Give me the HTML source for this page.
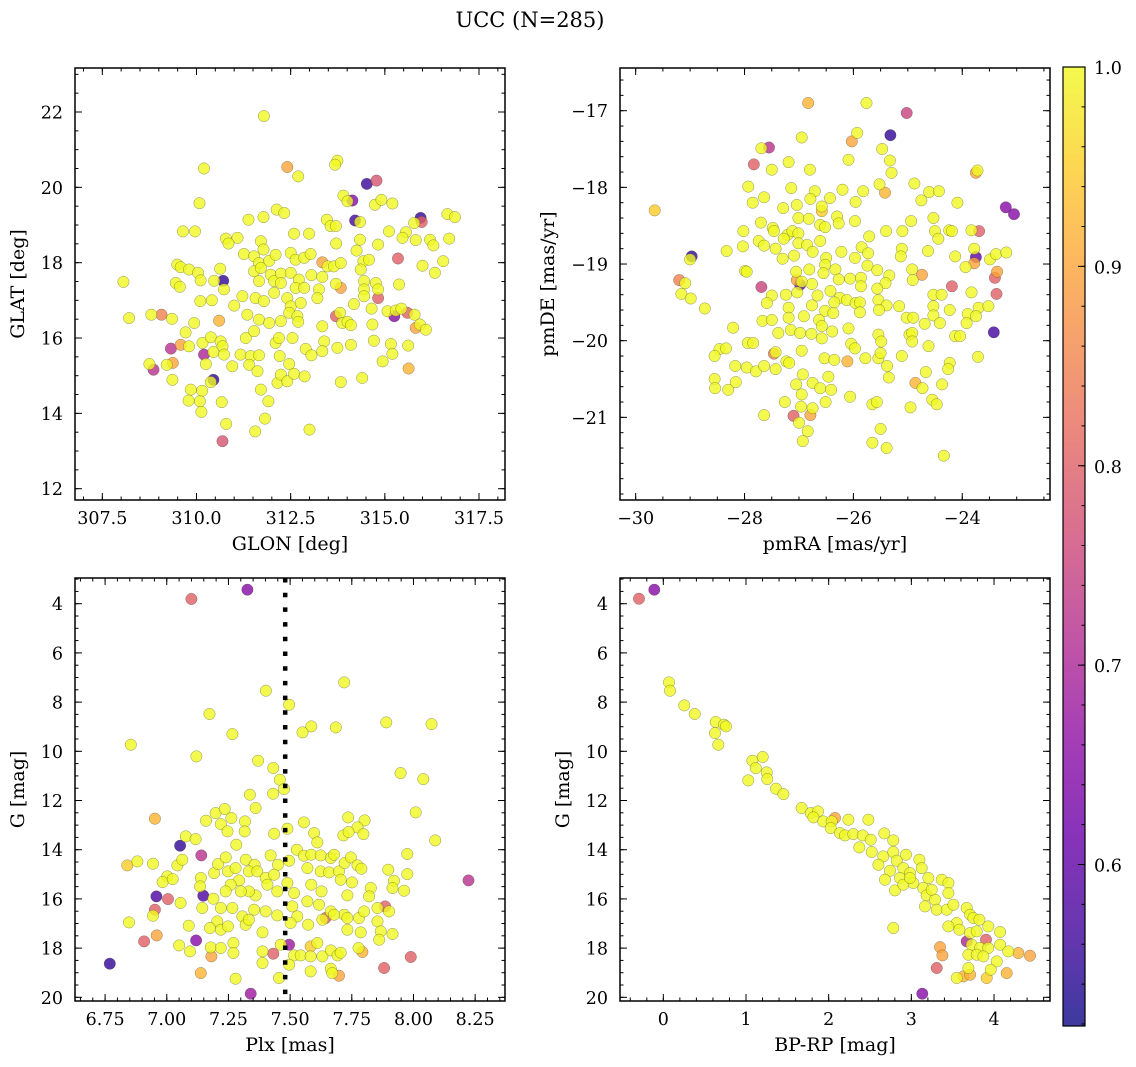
<!DOCTYPE html>
<html><head><meta charset="utf-8"><title>UCC (N=285)</title>
<style>
html,body{margin:0;padding:0;background:#fff;}
svg{display:block;font-family:"DejaVu Serif","Liberation Serif",serif;}
</style></head>
<body>
<svg id="fig" width="1136" height="1067" viewBox="0 0 1136 1067" xmlns="http://www.w3.org/2000/svg">
<defs>
<linearGradient id="cbgrad" x1="0" y1="1" x2="0" y2="0"></linearGradient>
<clipPath id="c1"><rect x="75" y="68" width="430" height="432"/></clipPath>
<clipPath id="c2"><rect x="620" y="68" width="430" height="432"/></clipPath>
<clipPath id="c3"><rect x="75" y="578" width="430" height="423"/></clipPath>
<clipPath id="c4"><rect x="620" y="578" width="430" height="423"/></clipPath>
</defs>
<rect x="0" y="0" width="1136" height="1067" fill="#fff"/>
<text x="530" y="27" font-size="21" text-anchor="middle">UCC (N=285)</text>
<g id="plots"></g>
</svg>
<script>
// ---------- DATA ----------
// panel 1: [GLON, GLAT, membership probability]
const glonGlat = [
[311.79,21.89,1],[310.20,20.50,1],[312.41,20.54,0.9],[312.70,20.29,1],[313.74,20.71,1],[313.68,20.60,1],[314.52,20.09,0.56],[314.78,20.18,0.78],
[310.08,19.58,1],[313.90,19.78,1],[314.14,19.65,0.65],[314.01,19.63,1],[314.74,19.54,1],[314.91,19.67,1],[315.20,19.57,1],[315.95,19.19,0.55],
[315.98,19.08,0.8],[315.78,19.05,1],[316.66,19.29,1],[316.86,19.21,1],[311.38,19.14,1],[311.78,19.21,1],[312.13,19.41,1],[312.33,19.32,1],
[313.46,19.14,1],[313.56,18.97,1],[313.70,18.97,1],[314.21,19.12,0.57],[314.34,19.08,1],[309.64,18.83,1],[309.96,18.83,1],[310.78,18.64,1],
[311.09,18.66,1],[310.85,18.51,1],[312.59,18.77,1],[312.99,18.77,1],[313.71,18.51,1],[314.34,18.61,1],[314.82,18.48,1],[315.11,18.83,1],
[315.56,18.81,1],[315.47,18.66,1],[315.82,18.60,1],[316.20,18.61,1],[316.29,18.46,1],[316.71,18.64,1],[311.71,18.57,1],[311.78,18.35,1],
[311.26,18.23,1],[311.53,18.17,1],[311.66,17.99,1],[311.93,18.05,1],[312.10,18.21,1],[312.50,18.26,1],[312.63,18.08,1],[312.86,18.13,1],
[313.03,18.23,1],[313.34,18.01,0.9],[313.48,17.90,1],[313.65,17.90,1],[313.83,17.99,1],[314.25,18.32,1],[314.43,18.04,1],[314.58,18.08,1],
[314.36,17.82,1],[315.35,18.11,0.8],[316.00,17.92,1],[316.55,18.04,1],[316.33,17.73,1],[309.49,17.95,1],[309.58,17.88,1],[309.80,17.82,1],
[310.04,17.73,1],[310.11,17.53,1],[310.47,17.52,1],[310.63,17.84,1],[310.71,17.52,0.55],[310.73,17.29,1],[309.45,17.46,1],[309.56,17.36,1],
[311.53,17.77,1],[311.71,17.86,1],[311.66,17.51,1],[311.97,17.68,1],[312.06,17.51,1],[312.24,17.71,1],[312.24,17.46,1],[312.50,17.73,1],
[312.72,17.55,1],[312.63,17.33,1],[312.86,17.33,1],[313.05,17.67,1],[313.34,17.62,1],[313.70,17.44,1],[313.83,17.33,0.9],[313.25,17.29,1],
[313.21,17.06,1],[314.45,17.51,1],[314.76,17.46,1],[314.82,17.29,1],[314.45,17.29,1],[314.45,17.11,1],[315.38,17.42,1],[314.82,17.06,0.8],
[308.06,17.49,1],[310.10,16.98,1],[310.41,17.00,1],[311.22,17.11,1],[311.00,16.86,1],[311.57,17.06,1],[311.79,16.98,1],[312.06,17.20,1],
[312.41,17.06,1],[312.50,16.84,1],[312.77,16.93,1],[314.18,16.90,1],[314.65,16.78,1],[308.21,16.53,1],[308.80,16.62,1],[309.07,16.62,0.85],
[309.35,16.51,1],[310.60,16.46,0.92],[311.35,16.62,1],[311.66,16.49,1],[311.93,16.40,1],[312.24,16.45,1],[312.46,16.67,1],[312.68,16.58,1],
[312.70,16.43,1],[313.81,16.67,1],[313.70,16.58,0.8],[313.87,16.40,1],[314.01,16.43,1],[314.10,16.34,1],[313.34,16.31,1],[315.25,16.58,0.65],
[315.07,16.71,1],[315.29,16.73,1],[315.44,16.78,1],[315.60,16.67,0.8],[315.79,16.62,1],[315.82,16.27,0.9],[315.93,16.36,1],[316.09,16.22,1],
[309.71,16.15,1],[309.94,16.40,1],[309.80,15.78,1],[310.16,15.87,1],[310.38,16.02,1],[310.64,15.91,1],[310.69,15.78,1],[311.31,16.00,1],
[311.53,16.18,1],[312.10,15.87,1],[312.19,16.00,1],[312.55,16.00,1],[312.90,15.71,1],[313.39,15.91,1],[313.74,15.74,1],[314.10,15.82,1],
[314.67,16.36,1],[314.71,15.93,1],[315.16,15.84,1],[315.62,15.80,1],[309.32,15.72,0.72],[309.58,15.82,0.9],[310.20,15.56,0.7],[310.45,15.63,1],
[310.73,15.56,1],[311.17,15.56,1],[311.44,15.52,1],[311.66,15.54,1],[310.25,15.31,1],[310.95,15.25,1],[311.40,15.29,1],[311.62,15.12,1],
[312.21,15.52,1],[312.46,15.31,1],[313.05,15.54,1],[313.34,15.65,1],[315.20,15.58,1],[314.94,15.38,1],[315.63,15.19,0.92],[308.75,15.31,1],
[308.86,15.16,0.72],[309.21,15.29,1],[309.37,15.34,0.9],[310.45,14.89,0.55],[310.38,14.83,1],[309.36,14.89,1],[312.15,14.81,1],[312.24,15.03,1],
[312.41,14.85,1],[312.59,15.05,1],[312.87,14.98,1],[313.83,14.83,1],[314.40,14.94,1],[309.85,14.63,1],[310.15,14.60,1],[309.79,14.34,1],
[310.09,14.32,1],[310.13,14.04,1],[310.67,14.30,1],[311.71,14.63,1],[311.91,14.32,1],[311.82,13.86,1],[310.79,13.72,1],[311.56,13.52,1],
[313.00,13.57,1],[310.69,13.26,0.78]
];
// panel 2: [pmRA, pmDE, prob]
const pmRaDe = [
[-26.83,-16.90,0.92],[-25.76,-16.90,1],[-25.02,-17.03,0.75],[-25.32,-17.32,0.55],[-26.95,-17.35,1],[-25.93,-17.29,1],[-26.03,-17.40,0.9],[-27.69,-17.49,1],
[-27.55,-17.48,0.72],[-25.47,-17.50,1],[-27.83,-17.70,0.8],[-27.50,-17.77,1],[-27.19,-17.67,1],[-26.80,-17.77,1],[-26.09,-17.64,1],[-25.33,-17.65,1],
[-25.30,-17.81,1],[-23.75,-17.81,0.9],[-23.72,-17.78,1],[-27.93,-17.99,1],[-27.14,-18.01,1],[-26.71,-18.05,1],[-26.79,-18.15,1],[-26.43,-18.14,1],
[-26.20,-18.03,1],[-25.82,-18.05,1],[-25.52,-17.96,1],[-25.42,-18.07,0.92],[-24.88,-17.95,1],[-24.61,-18.06,1],[-24.43,-18.05,1],[-24.75,-18.17,1],
[-24.09,-18.20,1],[-29.65,-18.30,0.95],[-27.85,-18.20,1],[-27.64,-18.13,1],[-27.29,-18.27,1],[-27.04,-18.23,1],[-26.58,-18.31,0.95],[-26.58,-18.25,1],
[-23.20,-18.26,0.65],[-23.05,-18.35,0.65],[-25.96,-18.19,1],[-27.70,-18.46,1],[-27.48,-18.53,1],[-27.46,-18.57,1],[-27.01,-18.40,1],[-26.82,-18.41,1],
[-26.61,-18.49,1],[-26.52,-18.52,1],[-26.30,-18.38,1],[-26.27,-18.47,1],[-25.97,-18.44,1],[-28.02,-18.57,1],[-27.21,-18.62,1],[-27.12,-18.57,1],
[-27.01,-18.60,1],[-26.61,-18.70,1],[-25.71,-18.64,1],[-25.40,-18.57,1],[-25.10,-18.57,1],[-24.94,-18.44,1],[-24.53,-18.40,1],[-24.50,-18.57,1],
[-24.44,-18.67,1],[-24.24,-18.56,1],[-24.19,-18.57,1],[-23.83,-18.56,1],[-23.69,-18.57,0.8],[-28.33,-18.83,1],[-28.03,-18.77,1],[-27.74,-18.70,1],
[-27.64,-18.76,1],[-27.43,-18.80,1],[-27.28,-18.67,1],[-27.01,-18.73,1],[-26.85,-18.75,1],[-26.75,-18.84,1],[-27.30,-18.93,1],[-27.09,-18.89,1],
[-28.97,-18.90,0.55],[-29.00,-18.94,1],[-25.11,-18.80,1],[-25.13,-18.90,1],[-24.63,-18.83,1],[-24.13,-18.90,1],[-23.78,-18.80,1],[-23.75,-18.91,0.6],
[-23.78,-18.99,0.9],[-23.94,-19.04,1],[-23.49,-18.94,1],[-23.38,-18.87,1],[-23.19,-18.85,1],[-26.22,-18.84,1],[-25.97,-18.92,1],[-25.85,-18.78,1],
[-25.73,-18.86,1],[-25.74,-19.02,1],[-26.50,-18.92,1],[-26.52,-19.01,1],[-26.33,-19.07,1],[-26.55,-19.12,1],[-26.81,-19.07,1],[-27.05,-19.10,1],
[-27.99,-19.09,1],[-27.96,-19.10,1],[-25.56,-19.08,1],[-25.34,-19.15,1],[-24.92,-19.07,1],[-24.74,-19.14,0.9],[-24.91,-19.21,1],[-23.36,-19.10,0.9],
[-23.40,-19.18,0.8],[-29.20,-19.21,0.85],[-29.09,-19.25,1],[-27.04,-19.21,0.9],[-26.98,-19.27,0.6],[-26.76,-19.26,1],[-26.95,-19.23,1],[-27.69,-19.30,0.75],
[-26.27,-19.20,1],[-26.06,-19.19,1],[-25.86,-19.18,1],[-25.86,-19.29,1],[-25.41,-19.25,1],[-24.19,-19.29,0.8],[-29.16,-19.39,1],[-28.99,-19.45,1],
[-28.73,-19.58,1],[-27.50,-19.41,1],[-27.59,-19.51,1],[-27.24,-19.40,1],[-27.03,-19.37,1],[-26.66,-19.41,1],[-26.42,-19.35,1],[-26.25,-19.44,1],
[-26.12,-19.47,1],[-25.96,-19.51,1],[-25.88,-19.50,1],[-25.56,-19.32,1],[-25.54,-19.47,1],[-25.39,-19.54,1],[-25.53,-19.60,1],[-23.37,-19.39,0.8],
[-24.53,-19.40,1],[-24.38,-19.40,1],[-23.83,-19.37,1],[-25.16,-19.55,1],[-24.53,-19.55,1],[-24.23,-19.60,1],[-23.70,-19.57,1],[-23.52,-19.55,1],
[-23.90,-19.65,1],[-23.75,-19.68,1],[-23.92,-19.77,1],[-27.67,-19.74,1],[-27.50,-19.73,1],[-27.19,-19.57,1],[-27.19,-19.70,1],[-26.91,-19.68,1],
[-26.76,-19.54,1],[-26.52,-19.61,1],[-26.37,-19.64,1],[-26.35,-19.50,1],[-26.63,-19.73,1],[-26.58,-19.81,1],[-25.88,-19.63,1],[-25.02,-19.70,1],
[-24.90,-19.70,1],[-24.69,-19.78,1],[-24.53,-19.67,1],[-24.41,-19.77,1],[-28.21,-19.83,1],[-27.38,-19.90,1],[-27.15,-19.86,1],[-26.98,-19.90,1],
[-26.77,-19.91,1],[-26.58,-19.97,1],[-26.39,-19.88,1],[-26.09,-19.84,1],[-25.54,-19.92,1],[-25.49,-20.01,1],[-24.97,-19.92,1],[-24.92,-19.90,1],
[-24.92,-20.01,1],[-24.13,-19.94,1],[-24.04,-19.94,1],[-23.42,-19.89,0.57],[-27.94,-20.03,1],[-27.84,-20.03,1],[-28.46,-20.11,1],[-28.34,-20.10,1],
[-28.55,-20.20,1],[-27.46,-20.17,0.85],[-27.43,-20.15,1],[-26.95,-20.13,1],[-26.04,-20.04,1],[-25.97,-20.10,1],[-24.62,-20.07,1],[-23.71,-20.21,1],
[-28.17,-20.33,1],[-27.96,-20.35,1],[-27.79,-20.40,1],[-27.64,-20.33,1],[-27.43,-20.37,1],[-27.23,-20.27,1],[-27.18,-20.29,1],[-26.53,-20.23,1],
[-26.35,-20.25,1],[-26.11,-20.27,0.92],[-25.78,-20.23,1],[-25.54,-20.23,1],[-25.50,-20.16,1],[-25.38,-20.33,1],[-25.35,-20.48,1],[-25.11,-20.20,1],
[-24.23,-20.29,1],[-24.26,-20.37,1],[-24.67,-20.41,1],[-24.86,-20.55,0.92],[-24.73,-20.62,1],[-24.37,-20.57,1],[-28.55,-20.50,1],[-28.54,-20.62,1],
[-28.30,-20.64,1],[-28.16,-20.54,1],[-27.05,-20.57,1],[-26.93,-20.44,1],[-26.75,-20.55,1],[-26.61,-20.62,1],[-26.46,-20.47,1],[-26.41,-20.64,1],
[-26.95,-20.70,1],[-24.55,-20.77,1],[-24.47,-20.83,1],[-27.26,-20.80,1],[-26.96,-20.86,1],[-26.75,-20.88,1],[-26.79,-20.97,0.9],[-26.51,-20.80,1],
[-26.06,-20.73,1],[-25.65,-20.83,1],[-25.57,-20.80,1],[-24.95,-20.87,1],[-27.64,-20.97,1],[-27.10,-20.98,0.8],[-27.00,-21.07,1],[-26.84,-21.18,1],
[-26.93,-21.31,1],[-25.50,-21.15,1],[-25.65,-21.33,1],[-25.39,-21.40,1],[-24.34,-21.50,1]
];
// panel 3: [Plx, G, prob]
const plxG = [
[7.327,3.43,0.65],[7.100,3.81,0.8],[7.402,7.537,1],[7.719,7.198,1],[7.496,8.106,1],[7.173,8.485,1],[7.586,8.987,1],[7.550,9.23,1],
[7.685,9.03,1],[7.890,8.824,1],[8.073,8.892,1],[7.266,9.299,1],[6.854,9.732,1],[7.120,10.206,1],[7.370,10.382,1],[7.432,10.68,1],
[7.458,11.155,1],[7.948,10.884,1],[8.040,11.128,1],[7.475,11.534,1],[7.337,11.765,1],[7.431,11.724,1],[7.360,12.306,1],[8.009,12.483,1],
[6.952,12.74,0.92],[7.159,12.822,1],[7.198,12.51,1],[7.235,12.347,1],[7.262,12.713,1],[7.317,12.849,1],[7.316,13.255,1],[7.219,12.957,1],
[7.246,13.255,1],[7.556,12.89,1],[7.735,12.686,1],[7.802,12.808,1],[7.773,13.093,1],[7.797,13.364,1],[7.716,13.418,1],[7.737,13.282,1],
[7.435,13.35,1],[7.489,13.147,1],[7.597,13.323,1],[7.610,13.702,1],[7.077,13.459,1],[7.117,13.567,1],[7.054,13.838,0.55],[7.282,13.797,1],
[8.088,13.621,1],[7.140,14.23,0.72],[7.975,14.176,1],[6.840,14.637,0.95],[6.881,14.475,1],[6.944,14.57,1],[7.043,14.637,1],[7.063,14.407,1],
[7.002,15.084,1],[6.983,15.315,1],[7.024,15.193,1],[7.138,15.152,1],[7.135,15.491,1],[7.148,15.87,0.58],[7.192,14.949,1],[7.208,14.583,1],
[7.239,14.312,1],[7.248,14.881,1],[7.279,14.746,1],[7.293,15.247,1],[7.320,14.407,1],[7.356,14.61,1],[7.333,14.881,1],[7.367,14.881,1],
[7.401,15.152,1],[7.421,14.23,1],[7.451,14.61,1],[7.435,15.017,1],[7.496,14.447,1],[7.527,14.00,1],[7.556,14.244,1],[7.570,14.746,1],
[7.586,14.204,1],[7.624,14.23,1],[7.624,14.881,1],[7.665,14.339,1],[7.678,14.204,1],[7.658,14.922,1],[7.698,14.881,1],[7.705,15.22,1],
[7.721,14.542,1],[7.746,14.312,1],[7.773,14.637,1],[7.789,14.773,1],[7.751,15.328,1],[7.898,14.813,1],[7.921,15.261,1],[7.975,14.99,1],
[7.962,15.667,1],[7.915,15.558,1],[7.827,15.558,1],[7.820,15.897,1],[7.732,15.856,1],[7.627,15.694,1],[7.586,15.423,1],[7.516,15.762,1],
[7.489,15.355,1],[7.448,15.694,1],[7.408,15.423,1],[7.360,15.856,1],[7.333,15.694,1],[7.300,15.694,1],[7.259,15.423,1],[7.239,15.694,1],
[7.219,16.371,1],[7.189,15.992,1],[7.144,16.371,1],[7.056,16.168,1],[6.958,15.897,0.58],[7.005,16.006,0.8],[6.952,16.44,0.8],[6.944,16.683,1],
[6.847,16.954,1],[8.223,15.247,0.72],[7.509,16.304,1],[7.570,16.10,1],[7.617,16.236,1],[7.665,16.507,1],[7.719,16.642,1],[7.732,16.778,1],
[7.779,16.778,1],[7.800,16.507,1],[7.854,16.371,1],[7.885,16.304,0.8],[7.901,16.507,1],[7.854,16.913,1],[7.915,17.428,1],[7.867,17.32,1],
[7.861,17.659,1],[7.786,17.36,1],[7.732,17.252,1],[7.678,16.642,1],[7.644,16.778,0.8],[7.631,16.845,1],[7.573,17.049,1],[7.529,16.71,1],
[7.502,16.981,1],[7.448,16.67,1],[7.401,16.507,1],[7.354,16.44,1],[7.306,16.71,1],[7.320,17.049,1],[7.333,16.845,1],[7.388,17.36,1],
[7.266,16.371,1],[7.205,16.913,1],[7.175,17.184,1],[7.219,17.252,1],[7.248,17.117,1],[7.089,17.09,1],[6.908,17.726,0.8],[6.959,17.483,0.9],
[7.119,17.686,0.65],[7.050,17.889,1],[7.094,18.133,1],[7.178,17.97,1],[7.181,18.336,0.9],[7.219,17.997,1],[7.270,17.794,1],[7.270,18.20,1],
[7.388,18.133,1],[7.388,18.607,1],[7.432,18.228,0.8],[7.462,17.862,1],[7.496,17.862,0.68],[7.516,18.296,1],[7.543,18.296,1],[7.583,17.93,0.95],
[7.610,17.794,1],[7.583,18.336,1],[7.631,18.336,1],[7.665,18.092,1],[7.692,18.296,1],[7.705,18.187,1],[7.777,17.997,1],[7.793,18.16,0.92],
[7.665,18.837,1],[7.671,19.014,1],[7.698,19.122,0.9],[7.583,18.946,1],[7.496,18.675,1],[7.455,19.217,1],[7.279,19.244,1],[7.138,19.014,0.92],
[7.881,18.81,0.8],[7.989,18.363,0.8],[6.769,18.634,0.55],[7.340,19.854,0.68]
];
// panel 4: [BP-RP, G, prob]
const colorG = [
[-0.294,3.797,0.8],[-0.109,3.431,0.65],[0.069,7.198,1],[0.081,7.537,1],[0.254,8.133,1],[0.379,8.485,1],[0.633,8.81,1],[0.734,8.919,1],
[0.758,8.987,1],[0.625,9.258,1],[0.665,9.732,1],[1.077,10.382,1],[1.202,10.233,1],[1.117,10.681,1],[1.250,10.857,1],[1.028,11.182,1],
[1.258,11.128,1],[1.363,11.521,1],[1.452,11.738,1],[1.673,12.306,1],[1.782,12.51,1],[1.871,12.442,1],[1.815,12.686,1],[1.935,12.849,1],
[2.036,12.849,1],[2.077,12.713,0.9],[2.024,13.12,1],[2.137,13.323,1],[2.238,12.781,1],[2.480,12.781,1],[2.198,13.418,1],[2.298,13.364,1],
[2.411,13.418,1],[2.508,13.594,1],[2.673,13.337,1],[2.782,13.621,1],[2.371,13.906,1],[2.520,14.095,1],[2.661,14.271,1],[2.782,14.095,1],
[2.935,14.204,1],[2.601,14.61,1],[2.742,14.854,1],[2.823,14.447,1],[3.097,14.407,1],[2.903,14.746,1],[2.984,14.949,1],[3.125,14.746,1],
[3.206,15.152,1],[2.681,15.22,1],[2.802,15.653,1],[2.863,15.152,1],[3.024,15.355,1],[3.145,15.558,1],[3.367,15.22,1],[3.448,15.355,1],
[3.185,15.856,1],[3.286,16.033,1],[3.448,15.762,1],[3.165,16.304,1],[3.306,16.44,1],[3.427,16.44,1],[3.508,16.236,1],[3.669,16.371,1],
[3.710,16.642,1],[3.548,16.981,1],[3.750,16.778,1],[3.823,16.845,1],[3.931,17.117,1],[4.073,17.347,1],[3.581,17.252,1],[3.710,17.388,1],
[3.448,17.117,1],[3.669,17.727,0.7],[3.730,17.862,1],[3.903,17.659,0.8],[3.831,17.997,1],[3.931,17.997,1],[4.073,17.862,1],[3.347,17.957,0.9],
[3.375,18.296,0.9],[3.306,18.81,0.8],[3.690,18.269,1],[3.790,18.269,1],[3.871,18.336,1],[4.032,18.54,1],[4.173,18.133,1],[4.294,18.20,0.92],
[4.435,18.309,0.9],[4.153,19.014,0.92],[3.960,18.878,1],[3.911,19.217,0.95],[3.690,18.81,1],[3.548,19.217,1],[3.629,19.149,0.92],[3.710,19.082,0.92],
[2.782,17.184,1],[3.133,19.854,0.65],[2.903,15.423,1],[2.984,15.152,1],[3.246,15.626,1],[3.790,17.32,1]
];
// reference parallax (dotted line)
const refPlx = [7.48];
// tick label arrays
const glonTicks = [307.5, 310.0, 312.5, 315.0, 317.5];
const glatTicks = [12, 14, 16, 18, 20, 22];
const pmraTicks = [-30, -28, -26, -24];
const pmdeTicks = [-21, -20, -19, -18, -17];
const plxTicks = [6.75, 7.00, 7.25, 7.50, 7.75, 8.00, 8.25];
const magTicks = [4, 6, 8, 10, 12, 14, 16, 18, 20];
const bprpTicks = [0, 1, 2, 3, 4];
const cbarTicks = [0.6, 0.7, 0.8, 0.9, 1.0];
const cbarRange = [0.519, 1.0];

// ---------- RENDERING ----------
const NS = 'http://www.w3.org/2000/svg';
const root = document.getElementById('plots');
const TICKFS = 17.5, LABFS = 19;
function mk(tag, attrs, parent) {
  const e = document.createElementNS(NS, tag);
  for (const k in attrs) e.setAttribute(k, attrs[k]);
  (parent || root).appendChild(e);
  return e;
}
const plasmaStops = [[13,8,135],[65,4,157],[106,0,168],[143,13,164],[177,42,144],[204,71,120],[225,100,98],[242,132,75],[252,166,54],[252,206,37],[240,249,33]];
function plasma(t) {
  t = Math.max(0, Math.min(1, t));
  const f = t * 10, i = Math.min(9, Math.floor(f)), r = f - i;
  const a = plasmaStops[i], b = plasmaStops[i + 1];
  return 'rgb(' + [0,1,2].map(k => Math.round(a[k] + (b[k] - a[k]) * r)).join(',') + ')';
}
function pcol(p) { return plasma((p - cbarRange[0]) / (cbarRange[1] - cbarRange[0])); }
function fmtMinus(s) { return String(s).replace('-', '\u2212'); }

function panel(cfg) {
  const g = mk('g', {});
  
  
  const sx = v => cfg.x0 + (v - cfg.xd[0]) / (cfg.xd[1] - cfg.xd[0]) * cfg.w;
  const sy = cfg.yInv
    ? v => cfg.y0 + (v - cfg.yd[0]) / (cfg.yd[1] - cfg.yd[0]) * cfg.h
    : v => cfg.y0 + cfg.h - (v - cfg.yd[0]) / (cfg.yd[1] - cfg.yd[0]) * cfg.h;
  const pg = mk('g', {'clip-path': 'url(#' + cfg.clip + ')'}, g);
  
  
  const pts = cfg.data.slice().sort((a, b) => a[2] - b[2]);
  pts.forEach(d => {
    const c = mk('circle', {cx: sx(d[0]).toFixed(1), cy: sy(d[1]).toFixed(1), r: 5.7, fill: pcol(d[2]), 'fill-opacity': 0.8, stroke: 'rgba(60,60,40,0.55)', 'stroke-width': 0.5}, pg);
    
    
  });
  if (cfg.vline) {
    cfg.vline.forEach(v => {
      const l = mk('line', {x1: sx(v), x2: sx(v), y1: cfg.y0, y2: cfg.y0 + cfg.h, stroke: '#000', 'stroke-width': 4.5, 'stroke-dasharray': '4.5 10.2'}, g);
      
      
    });
  }
  const tg = mk('g', {stroke: '#000', 'stroke-width': 1}, g);
  const x1 = cfg.x0, x2 = cfg.x0 + cfg.w, y1 = cfg.y0, y2 = cfg.y0 + cfg.h;
  function xt(v, len) { const X = sx(v); if (X < x1 + 1 || X > x2 - 1) return; mk('line', {x1: X, x2: X, y1: y2, y2: y2 - len}, tg); mk('line', {x1: X, x2: X, y1: y1, y2: y1 + len}, tg); }
  function yt(v, len) { const Y = sy(v); if (Y < y1 + 1 || Y > y2 - 1) return; mk('line', {x1: x1, x2: x1 + len, y1: Y, y2: Y}, tg); mk('line', {x1: x2, x2: x2 - len, y1: Y, y2: Y}, tg); }
  const xlo = Math.min(cfg.xd[0], cfg.xd[1]), xhi = Math.max(cfg.xd[0], cfg.xd[1]);
  for (let v = Math.ceil(xlo / cfg.xm) * cfg.xm; v <= xhi; v += cfg.xm) xt(v, 3.5);
  const ylo = Math.min(cfg.yd[0], cfg.yd[1]), yhi = Math.max(cfg.yd[0], cfg.yd[1]);
  for (let v = Math.ceil(ylo / cfg.ym) * cfg.ym; v <= yhi; v += cfg.ym) yt(v, 3.5);
  cfg.xt.forEach(v => xt(v, 7));
  cfg.yt.forEach(v => yt(v, 7));
  cfg.xt.forEach(v => {
    const t = mk('text', {x: sx(v), y: y2 + 24, 'font-size': TICKFS, 'text-anchor': 'middle'}, g);
    t.textContent = fmtMinus(v.toFixed(cfg.xdec));
    
    
  });
  cfg.yt.forEach(v => {
    const t = mk('text', {x: x1 - 12, y: sy(v) + 6.5, 'font-size': TICKFS, 'text-anchor': 'end'}, g);
    t.textContent = fmtMinus(v.toFixed(0));
    
    
  });
  const fr = mk('rect', {x: x1, y: y1, width: cfg.w, height: cfg.h, fill: 'none', stroke: '#000', 'stroke-width': 1.5}, g);
  
  
  const xl = mk('text', {x: x1 + cfg.w / 2, y: y2 + 50, 'font-size': LABFS, 'text-anchor': 'middle'}, g);
  xl.textContent = cfg.xlabel;
  
  
  const yx = cfg.ylx, yy = y1 + cfg.h / 2;
  const yl = mk('text', {x: yx, y: yy, 'font-size': LABFS, 'text-anchor': 'middle', transform: 'rotate(-90 ' + yx + ' ' + yy + ')'}, g);
  yl.textContent = cfg.ylabel;
  
  
}

panel({name: 'glon-glat-panel', clip: 'c1', x0: 75, y0: 68, w: 430, h: 432, xd: [306.775, 318.19], yd: [11.70, 23.168], xt: glonTicks, yt: glatTicks, xm: 0.5, ym: 0.5, xdec: 1, data: glonGlat, xlabel: 'GLON [deg]', ylabel: 'GLAT [deg]', ylx: 24});
panel({name: 'proper-motion-panel', clip: 'c2', x0: 620, y0: 68, w: 430, h: 432, xd: [-30.288, -22.388], yd: [-22.078, -16.443], xt: pmraTicks, yt: pmdeTicks, xm: 0.5, ym: 0.2, xdec: 0, data: pmRaDe, xlabel: 'pmRA [mas/yr]', ylabel: 'pmDE [mas/yr]', ylx: 554});
panel({name: 'plx-g-panel', clip: 'c3', x0: 75, y0: 578, w: 430, h: 423, xd: [6.628, 8.371], yd: [2.955, 20.15], yInv: true, xt: plxTicks, yt: magTicks, xm: 0.05, ym: 0.5, xdec: 2, data: plxG, vline: refPlx, xlabel: 'Plx [mas]', ylabel: 'G [mag]', ylx: 24});
panel({name: 'cmd-panel', clip: 'c4', x0: 620, y0: 578, w: 430, h: 423, xd: [-0.524, 4.677], yd: [2.955, 20.15], yInv: true, xt: bprpTicks, yt: magTicks, xm: 0.2, ym: 0.5, xdec: 0, data: colorG, xlabel: 'BP-RP [mag]', ylabel: 'G [mag]', ylx: 569});

(function () {
  const grad = document.getElementById('cbgrad');
  for (let i = 0; i <= 20; i++) {
    const p = cbarRange[0] + (cbarRange[1] - cbarRange[0]) * i / 20;
    mk('stop', {offset: (i / 20), 'stop-color': pcol(p), 'stop-opacity': 0.8}, grad);
  }
  const cx = 1063, cw = 22, cy = 67, ch = 959;
  const sc = v => cy + ch - (v - cbarRange[0]) / (cbarRange[1] - cbarRange[0]) * ch;
  const g = mk('g', {});
  
  
  mk('rect', {x: cx, y: cy, width: cw, height: ch, fill: 'url(#cbgrad)'}, g);
  const tg = mk('g', {stroke: '#000', 'stroke-width': 1}, g);
  for (let k = 26; k <= 50; k++) {
    const v = k * 0.02; const Y = sc(v);
    if (Y < cy + 1 || Y > cy + ch - 1) continue;
    mk('line', {x1: cx + cw, x2: cx + cw - 3.5, y1: Y, y2: Y}, tg);
  }
  cbarTicks.forEach(v => {
    const Y = sc(v);
    mk('line', {x1: cx + cw, x2: cx + cw - 7, y1: Y, y2: Y}, tg);
    const t = mk('text', {x: cx + cw + 9, y: Y + 7, 'font-size': TICKFS}, g);
    t.textContent = v.toFixed(1);
    
    
  });
  mk('rect', {x: cx, y: cy, width: cw, height: ch, fill: 'none', stroke: '#000', 'stroke-width': 1.2}, g);
})();
</script>
</body></html>
